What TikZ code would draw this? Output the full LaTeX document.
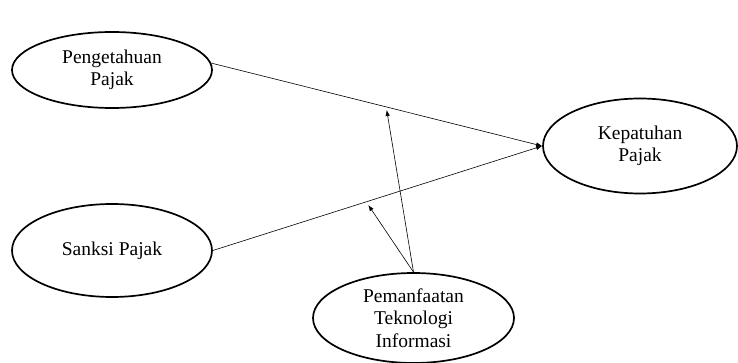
\documentclass[tikz,border=0pt]{standalone}
\usepackage{fontspec}
\setmainfont{Liberation Serif}
\usetikzlibrary{shapes.geometric,arrows.meta}
\tikzset{
  var/.style={ellipse, draw, line width=1.7pt, inner sep=0pt, align=center,
    font=\fontsize{19.5}{22.5}\selectfont},
  link/.style={line width=0.6pt, -{Latex[length=6pt,width=4.5pt]}}
}
\begin{document}
\begin{tikzpicture}[x=1pt,y=-1pt]
\useasboundingbox (0,0) rectangle (738,363);
\node[var, minimum width=200pt, minimum height=76pt] (p) at (112,70) {Pengetahuan\\Pajak};
\node[var, minimum width=200pt, minimum height=93pt] (s) at (112,250.5) {Sanksi Pajak};
\node[var, minimum width=194pt, minimum height=95pt] (k) at (640,146) {Kepatuhan\\Pajak};
\node[var, minimum width=201pt, minimum height=90pt] (m) at (413.5,318) {Pemanfaatan\\Teknologi\\Informasi};
\coordinate (t1) at (386.7,110);
\coordinate (t2) at (368.3,205);
\draw[link] (p.4) -- (k.west);
\draw[link] (s.east) -- (k.west);
\draw[link] (m.north) -- (t1);
\draw[link] (m.north) -- (t2);
\end{tikzpicture}
\end{document}
